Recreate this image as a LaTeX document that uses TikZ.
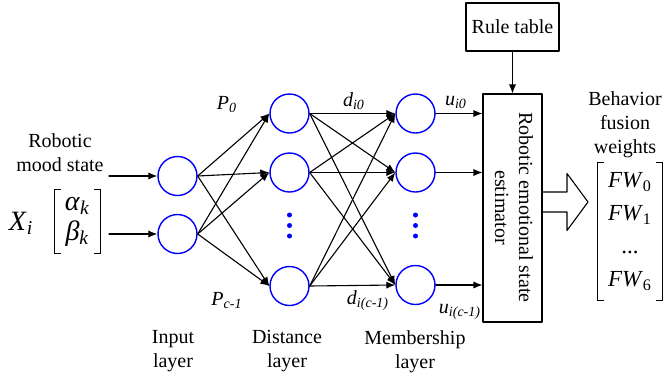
\documentclass[tikz,border=0pt]{standalone}
\usepackage{fontspec}
\setmainfont{Liberation Serif}
\usetikzlibrary{arrows.meta}

\begin{document}
\begin{tikzpicture}[x=0.5pt, y=-0.5pt, >={Latex[length=4.5pt,width=3.6pt]},
  line cap=round, line join=round,
  neuron/.style={circle, draw=blue, line width=0.7pt, minimum size=19.5pt, inner sep=0pt},
  link/.style={->, line width=0.55pt},
  lbl/.style={inner sep=0pt, align=center},
  blk/.style={draw, line width=0.55pt, inner sep=0pt},
  brk/.style={line width=0.65pt, line cap=butt, line join=miter}]

  \useasboundingbox (0,0) rectangle (665,381);

  %% ---- neurons ----
  \node[neuron] (in1) at (177.5,176) {};
  \node[neuron] (in2) at (177.5,234) {};
  \node[neuron] (d1) at (289.5,113.5) {};
  \node[neuron] (d2) at (289.5,172.5) {};
  \node[neuron] (d3) at (289.5,286) {};
  \node[neuron] (m1) at (415.5,113.5) {};
  \node[neuron] (m2) at (415.5,172.5) {};
  \node[neuron] (m3) at (415.5,285) {};

  %% ---- vertical dots ----
  \foreach \x in {289.5, 415.5}{
    \foreach \y in {215, 225.5, 236}
      \fill[blue] (\x,\y) circle (1.25pt);
  }

  %% ---- blocks ----
  \node[blk, minimum width=46.5pt, minimum height=24pt] (rule) at (512.5,27) {Rule table};
  \node[blk, minimum width=29.5pt, minimum height=114pt] (est) at (512.5,208) {};
  \node[lbl, rotate=-90] (esttext) at (514,207.5) {Robotic emotional state\\estimator};

  %% ---- input side ----
  \node[lbl] (mood) at (60,153) {Robotic\\mood state};
  \node[lbl, font=\fontsize{14}{16}\selectfont] (xi) at (21,223)
    {\textit{X}\textsubscript{\textit{i}}};
  \node[lbl, minimum width=22.5pt, minimum height=31.5pt,
    font=\fontsize{14}{15}\selectfont] (ab) at (77.5,221.5)
    {\textit{α}\textsubscript{\textit{k}}\\ \textit{β}\textsubscript{\textit{k}}};
  \draw[brk] ([xshift=3pt]ab.north west) -- (ab.north west) -- (ab.south west)
    -- ([xshift=3pt]ab.south west);
  \draw[brk] ([xshift=-3pt]ab.north east) -- (ab.north east) -- (ab.south east)
    -- ([xshift=-3pt]ab.south east);
  \coordinate (src1) at (109,176);
  \coordinate (src2) at (109,234);
  \draw[link] (src1) -- (in1.west);
  \draw[link] (src2) -- (in2.west);

  %% ---- layer connections ----
  \foreach \a in {in1,in2}{
    \foreach \b in {d1,d2,d3}
      \draw[link] (\a.east) -- (\b.west);
  }
  \foreach \a in {d1,d2,d3}{
    \foreach \b in {m1,m2,m3}
      \draw[link] (\a.east) -- (\b.west);
  }
  \foreach \a in {m1,m2,m3}
    \draw[link] (\a.east) -- (\a.east -| est.west);
  \draw[link] (rule.south) -- (est.north);

  %% ---- connection labels ----
  \node[lbl] (p0) at (227,105) {\textit{P}\textsubscript{\textit{0}}};
  \node[lbl] (pc) at (227,301) {\textit{P}\textsubscript{\textit{c-1}}};
  \node[lbl] (di0) at (354,101) {\textit{d}\textsubscript{\textit{i0}}};
  \node[lbl] (dic) at (368,301) {\textit{d}\textsubscript{\textit{i(c-1)}}};
  \node[lbl] (ui0) at (456,102) {\textit{u}\textsubscript{\textit{i0}}};
  \node[lbl] (uic) at (460,312) {\textit{u}\textsubscript{\textit{i(c-1)}}};

  %% ---- layer names ----
  \node[lbl] (inlayer) at (173,351.5) {Input\\layer};
  \node[lbl] (dlayer) at (287,351.5) {Distance\\layer};
  \node[lbl] (mlayer) at (415,351.5) {Membership\\layer};

  %% ---- hollow output arrow ----
  \draw[line width=0.55pt] (542,192) -- (567,192) -- (567,173.5) -- (588,202)
    -- (567,230.5) -- (567,212) -- (542,212);

  %% ---- output weights ----
  \node[lbl] (bfw) at (625,125) {Behavior\\fusion\\weights};
  \node[lbl, minimum width=32pt, minimum height=68.5pt,
    font=\fontsize{11.5}{16.5}\selectfont] (fw) at (630,231.5)
    {\textit{FW}\textsubscript{0}\\ \textit{FW}\textsubscript{1}\\ ...\\
     \textit{FW}\textsubscript{6}};
  \draw[brk] ([xshift=3pt]fw.north west) -- (fw.north west) -- (fw.south west)
    -- ([xshift=3pt]fw.south west);
  \draw[brk] ([xshift=-3pt]fw.north east) -- (fw.north east) -- (fw.south east)
    -- ([xshift=-3pt]fw.south east);

\end{tikzpicture}
\end{document}
